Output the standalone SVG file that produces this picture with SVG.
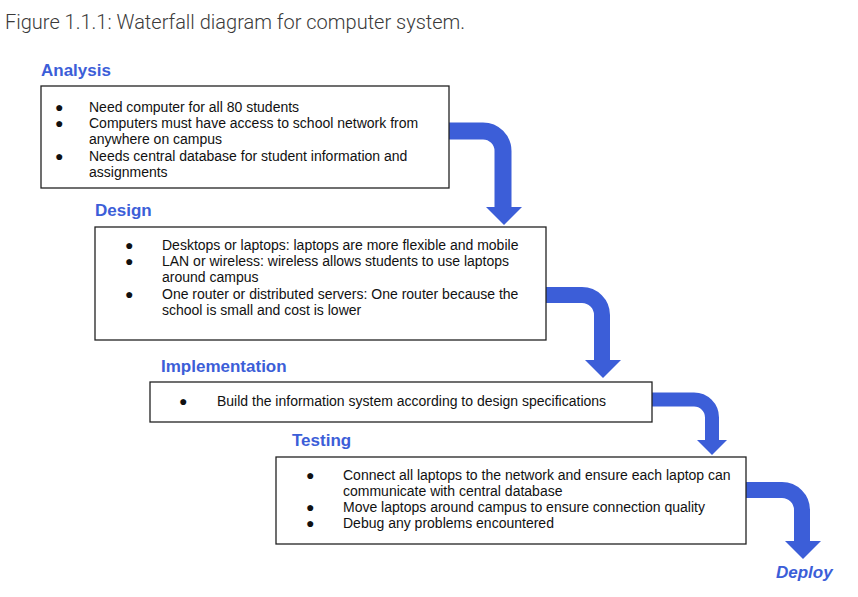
<svg xmlns="http://www.w3.org/2000/svg" width="858" height="597" viewBox="0 0 858 597">
<style>
.title{font-family:Roboto,"Liberation Sans",sans-serif;font-weight:300;font-size:20px;fill:#3a3a3a}
.lbl{font-family:"Liberation Sans",Arial,sans-serif;font-weight:bold;font-size:17px;fill:#3c5ed8}
.box{fill:#fff;stroke:#222;stroke-width:1.3}
.t{font-family:"Liberation Sans",Arial,sans-serif;font-size:14px;fill:#111}
.arr{fill:none;stroke:#3c5ed8}
.head{fill:#3c5ed8}
</style>
<rect width="858" height="597" fill="#fff"/>
<text class="title" x="5" y="29">Figure 1.1.1: Waterfall diagram for computer system.</text>

<g id="connectors">
<path class="arr" stroke-width="17" d="M449,131 H483 A20,20 0 0 1 503,151 V208"/>
<polygon class="head" points="486,207 522,207 504,225"/>
<path class="arr" stroke-width="16" d="M546,295 H582 A20,20 0 0 1 602,315 V361"/>
<polygon class="head" points="585,360 621,360 603,378"/>
<path class="arr" stroke-width="14" d="M652,399.5 H694 A18,18 0 0 1 712,417.5 V441"/>
<polygon class="head" points="697,440 727,440 712,455"/>
<path class="arr" stroke-width="16" d="M746,490 H782 A20,20 0 0 1 802,510 V542"/>
<polygon class="head" points="785,541 821,541 803,559"/>
</g>

<g id="analysis">
<text class="lbl" x="41" y="76">Analysis</text>
<rect class="box" x="41" y="86" width="408" height="102"/>
<text class="t" x="55" y="112">●</text><text class="t" x="89" y="112">Need computer for all 80 students</text>
<text class="t" x="55" y="128">●</text><text class="t" x="89" y="128">Computers must have access to school network from</text>
<text class="t" x="89" y="144">anywhere on campus</text>
<text class="t" x="55" y="161">●</text><text class="t" x="89" y="161">Needs central database for student information and</text>
<text class="t" x="89" y="177">assignments</text>
</g>

<g id="design">
<text class="lbl" x="95" y="216">Design</text>
<rect class="box" x="95" y="227" width="451" height="113"/>
<text class="t" x="125" y="250">●</text><text class="t" x="162" y="250">Desktops or laptops: laptops are more flexible and mobile</text>
<text class="t" x="125" y="266">●</text><text class="t" x="162" y="266">LAN or wireless: wireless allows students to use laptops</text>
<text class="t" x="162" y="282">around campus</text>
<text class="t" x="125" y="299">●</text><text class="t" x="162" y="299">One router or distributed servers: One router because the</text>
<text class="t" x="162" y="315">school is small and cost is lower</text>
</g>

<g id="implementation">
<text class="lbl" x="161" y="372">Implementation</text>
<rect class="box" x="150" y="382" width="502" height="40"/>
<text class="t" x="179" y="406">●</text><text class="t" x="217" y="406">Build the information system according to design specifications</text>
</g>

<g id="testing">
<text class="lbl" x="292" y="446">Testing</text>
<rect class="box" x="276" y="457" width="470" height="87"/>
<text class="t" x="306" y="480">●</text><text class="t" x="343" y="480">Connect all laptops to the network and ensure each laptop can</text>
<text class="t" x="343" y="496">communicate with central database</text>
<text class="t" x="306" y="512">●</text><text class="t" x="343" y="512">Move laptops around campus to ensure connection quality</text>
<text class="t" x="306" y="528">●</text><text class="t" x="343" y="528">Debug any problems encountered</text>
</g>

<g id="deploy">
<text class="lbl" x="776" y="578" font-style="italic">Deploy</text>
</g>
</svg>
